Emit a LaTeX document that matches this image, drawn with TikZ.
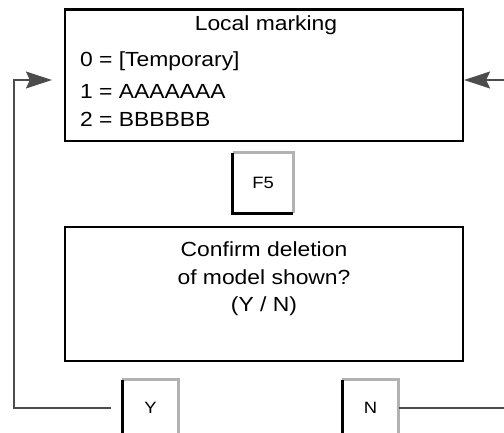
\documentclass[tikz,border=0pt]{standalone}
\usepackage{fontspec}
\setmainfont{Liberation Sans}[FakeStretch=1.12]
\usetikzlibrary{arrows.meta}

\begin{document}
\begin{tikzpicture}[x=1bp, y=1bp,
    every node/.style={font=\fontsize{20.5}{24}\selectfont},
    screen/.style={draw, line width=2.2bp, minimum width=398bp, inner sep=0pt},
    keycap/.style={fill=white, minimum width=56bp, minimum height=56bp, inner sep=0pt,
        font=\fontsize{16.5}{19}\selectfont},
    conn/.style={draw=black!70, line width=1.2bp},
    tip/.style={-{Stealth[length=26bp, width=17bp, inset=4bp, fill=black!70]}}]
    \useasboundingbox (0,0) rectangle (504,432);
    \clip (0,0) rectangle (504,432);

        % Display boxes
        \node[screen, minimum height=131.5bp] (menu) at (264,356.75) {};
        \node[screen, minimum height=134bp] (confirm) at (264,138) {};

        % Text of the first display
        \node (title) at (266,407) {Local marking};
        \node[anchor=west] (opt0) at (76.5,371) {0 = [Temporary]};
        \node[anchor=west] (opt1) at (76.5,341) {1 = AAAAAAA};
        \node[anchor=west] (opt2) at (76.5,312.5) {2 = BBBBBB};

        % Text of the second display
        \node (q1) at (264,182.5) {Confirm deletion};
        \node (q2) at (264,154.5) {of model shown?};
        \node (q3) at (264,125.5) {(Y / N)};

        % Keys
        \node[keycap, minimum width=60bp, minimum height=60bp] (f5) at (263,249) {\raisebox{-3bp}{F5}};
        \node[keycap] (ykey) at (150.5,24) {Y};
        \node[keycap] (nkey) at (370.5,24) {N};

        % Key edges: shadow on left and bottom, light on top and right
        \foreach \k in {f5,ykey,nkey} {
            \draw[black!30, line width=3bp] (\k.north west) -- (\k.north east) -- (\k.south east);
            \draw[black, line width=3bp] (\k.north west) -- (\k.south west) -- (\k.south east);
        }

        % Connectors back to the first display
        \draw[conn, tip, shorten <=11bp, shorten >=12bp] (ykey.west) -| (14,352) -- (menu.west |- 0,352);
        \draw[conn, tip] (nkey.east) -| (507,352) -- (menu.east |- 0,352);

\end{tikzpicture}
\end{document}
